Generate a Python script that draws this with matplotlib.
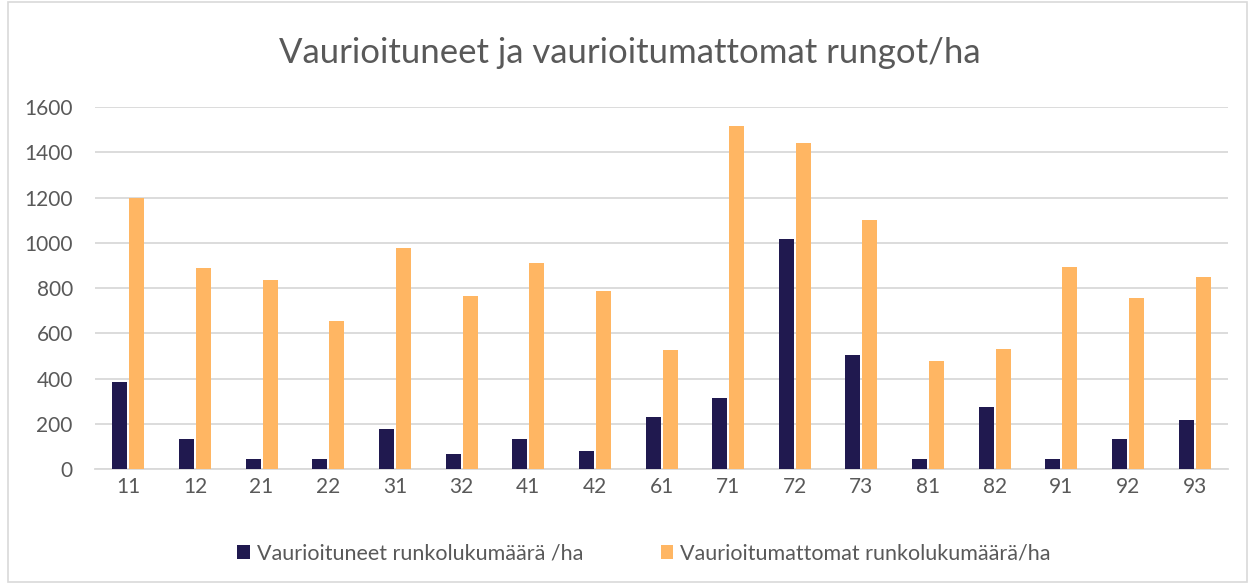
import numpy as np
import matplotlib
matplotlib.use("Agg")
import matplotlib.pyplot as plt
from matplotlib.patches import Rectangle

plt.rcParams['font.family'] = ['Lato', 'DejaVu Sans']

categories = ["11", "12", "21", "22", "31", "32", "41", "42", "61",
              "71", "72", "73", "81", "82", "91", "92", "93"]
damaged = [385, 133, 44, 44, 177, 66, 133, 80, 230,
           314, 1017, 504, 44, 274, 44, 133, 217]
undamaged = [1198, 888, 835, 654, 977, 765, 910, 787, 526,
             1516, 1441, 1100, 477, 530, 893, 756, 849]

navy = "#20194F"
orange = "#FFB663"
text_col = "#595959"

fig = plt.figure(figsize=(12.55, 5.87), dpi=100)
ax = fig.add_axes([0.0757, 0.201, 0.9028, 0.6167])

x = np.arange(len(categories))
w = 0.225
gap = 0.03
ax.bar(x - w / 2 - gap / 2, damaged, w, color=navy, zorder=3,
       label="Vaurioituneet runkolukumäärä /ha")
ax.bar(x + w / 2 + gap / 2, undamaged, w, color=orange, zorder=3,
       label="Vaurioitumattomat runkolukumäärä/ha")

ax.set_xlim(-0.5, len(categories) - 0.5)
ax.set_ylim(0, 1600)
ax.set_yticks(range(0, 1601, 200))
ax.set_xticks(x)
ax.set_xticklabels(categories)
ax.grid(axis="y", color="#D9D9D9", linewidth=1.3, zorder=0)
for s in ["top", "right", "left"]:
    ax.spines[s].set_visible(False)
ax.spines["bottom"].set_color("#D9D9D9")
ax.spines["bottom"].set_linewidth(1.3)
ax.tick_params(axis="both", length=0, labelsize=15, colors=text_col)
ax.tick_params(axis="x", pad=6)
ax.tick_params(axis="y", pad=16)

fig.text(0.502, 0.91, "Vaurioituneet ja vaurioitumattomat rungot/ha",
         ha="center", va="center", fontsize=25, color=text_col)

fig.legend(loc="center", bbox_to_anchor=(0.513, 0.057), ncol=2, frameon=False,
           fontsize=15.5, labelcolor=text_col, handlelength=0.6, handleheight=0.6,
           handletextpad=0.3, columnspacing=3.6)

fig.patches.append(Rectangle((0.006, 0.008), 0.988, 0.988, transform=fig.transFigure,
                             fill=False, edgecolor="#D9D9D9", linewidth=1.2))

fig.savefig("out.png", dpi=100)
